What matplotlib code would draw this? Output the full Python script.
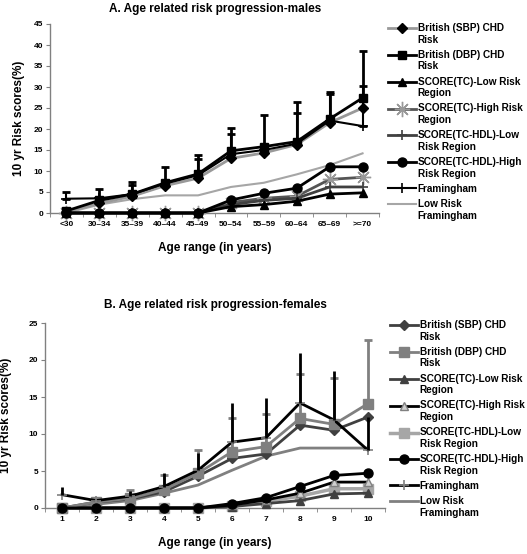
import matplotlib
matplotlib.use("Agg")
import matplotlib.pyplot as plt
from matplotlib.legend_handler import HandlerLine2D
import numpy as np

plt.rcParams['font.family'] = ['Liberation Sans', 'DejaVu Sans']
plt.rcParams['font.weight'] = 'bold'

# ---------------- Data ----------------
age_cats = ["<30", "30\u201334", "35\u201339", "40\u201344", "45\u201349",
            "50\u201354", "55\u201359", "60\u201364", "65\u201369", ">=70"]
female_cats = ["1", "2", "3", "4", "5", "6", "7", "8", "9", "10"]

labels = ["British (SBP) CHD\nRisk", "British (DBP) CHD\nRisk",
          "SCORE(TC)-Low Risk\nRegion", "SCORE(TC)-High Risk\nRegion",
          "SCORE(TC-HDL)-Low\nRisk Region", "SCORE(TC-HDL)-High\nRisk Region",
          "Framingham", "Low Risk\nFramingham"]

# Panel A (males)
sbp_A = [0.3, 2.3, 4.0, 6.5, 8.3, 13.0, 14.3, 16.3, 21.5, 25.0]
dbp_A = [0.5, 3.0, 4.5, 7.2, 9.3, 14.8, 15.8, 17.0, 22.4, 27.4]
tcl_A = [0, 0, 0, 0, 0, 1.5, 2.0, 2.8, 4.5, 4.8]
tch_A = [0, 0, 0, 0, 0, 2.5, 3.5, 4.0, 8.0, 8.5]
hdll_A = [0, 0, 0, 0, 0, 2.0, 3.0, 3.5, 6.2, 6.2]
hdlh_A = [0, 0, 0, 0, 0, 3.1, 4.7, 5.9, 11.0, 11.0]
fram_A = [3.4, 3.5, 4.5, 7.0, 9.0, 14.0, 15.0, 16.5, 22.0, 20.7]
lrf_A = [0, 2.0, 3.3, 4.2, 4.2, 6.2, 7.2, 9.2, 11.4, 14.2]
dbp_top_A = [0.5, 5.6, 7.3, 11.0, 13.7, 20.3, 23.3, 26.5, 28.9, 38.6]
fram_top_A = [5.0, 3.5, 6.7, 7.0, 12.9, 18.8, 15.0, 23.9, 28.3, 30.2]

# Panel B (females)
sbp_B = [0, 0.8, 1.2, 2.2, 4.3, 6.7, 7.3, 11.2, 10.5, 12.3]
dbp_B = [0, 0.8, 1.3, 2.5, 4.7, 7.6, 8.3, 12.1, 11.3, 14.1]
tcl_B = [0, 0, 0, 0, 0, 0.2, 0.6, 1.0, 1.9, 2.0]
tch_B = [0, 0, 0, 0, 0, 0.4, 1.1, 2.0, 3.5, 3.5]
hdll_B = [0, 0, 0, 0, 0, 0.3, 0.9, 1.6, 2.6, 2.6]
hdlh_B = [0, 0, 0, 0, 0, 0.6, 1.4, 2.9, 4.4, 4.7]
fram_B = [1.8, 1.0, 1.6, 2.9, 5.1, 8.9, 9.5, 14.2, 11.9, 7.8]
lrf_B = [0, 0.5, 1.0, 2.0, 3.1, 5.1, 7.0, 8.1, 8.1, 8.1]
fram_top_B = [2.9, 1.0, 2.3, 4.7, 7.5, 14.2, 14.8, 21.0, 18.5, 12.3]
dbp_top_B = [0, 1.3, 2.4, 4.5, 7.9, 12.1, 12.7, 18.1, 17.6, 22.7]

# ---------------- Figure ----------------
fig = plt.figure(figsize=(5.27, 5.54), dpi=100)
axA = fig.add_axes([50/527, 1-213/554, 329/527, 189/554])
axB = fig.add_axes([45/527, 1-508/554, 340/527, 185/554])

BLACK = '#000000'
DG = '#404040'
G = '#808080'
LG = '#a6a6a6'


class TopHandler(HandlerLine2D):
    """Align the legend handle with the first line of a two-line label."""
    def __init__(self, shift, **kw):
        super().__init__(**kw)
        self.shift = shift

    def create_artists(self, legend, orig_handle, xdescent, ydescent,
                       width, height, fontsize, trans):
        return super().create_artists(legend, orig_handle, xdescent,
                                      ydescent - 2 * self.shift, width, height,
                                      fontsize, trans)


def style_axes(ax, n, ymax, cats, xoff):
    ax.set_xlim(xoff - 0.5, xoff + n - 0.5)
    ax.set_ylim(0, ymax)
    ax.set_yticks(np.arange(0, ymax + 1, 5))
    ax.set_xticks(np.arange(n) + xoff)
    ax.set_xticklabels(cats)
    ax.set_xticks(np.arange(n + 1) + xoff - 0.5, minor=True)
    ax.tick_params(axis='x', which='major', length=0, labelsize=6, pad=6)
    ax.tick_params(axis='x', which='minor', length=3, color=G, direction='out')
    ax.tick_params(axis='y', length=3, color=G, labelsize=6, pad=2)
    for s in ['top', 'right']:
        ax.spines[s].set_visible(False)
    for s in ['left', 'bottom']:
        ax.spines[s].set_color(G)
        ax.spines[s].set_linewidth(1.0)
    for t in ax.get_xticklabels() + ax.get_yticklabels():
        t.set_fontweight('bold')


kw = dict(clip_on=False)
STAR = (8, 2, 0)

# ---- Panel A ----
xA = np.arange(len(age_cats))
hA = []
hA.append(axA.plot(xA, sbp_A, color='#999999', lw=2, marker='D', ms=5,
                   mfc=BLACK, mec=BLACK, zorder=4, **kw)[0])
hA.append(axA.plot(xA, dbp_A, color=BLACK, lw=2, marker='s', ms=6,
                   mfc=BLACK, mec=BLACK, zorder=5, **kw)[0])
hA.append(axA.plot(xA, tcl_A, color=BLACK, lw=2, marker='^', ms=6,
                   mfc=BLACK, mec=BLACK, zorder=5, **kw)[0])
hA.append(axA.plot(xA, tch_A, color='#555555', lw=2, marker=STAR, ms=11,
                   mec='#999999', mew=1.0, zorder=3, **kw)[0])
hA.append(axA.plot(xA, hdll_A, color=DG, lw=2, marker='+', ms=7,
                   mec=DG, mew=1.2, zorder=4, **kw)[0])
hA.append(axA.plot(xA, hdlh_A, color=BLACK, lw=2, marker='o', ms=6.5,
                   mfc=BLACK, mec=BLACK, zorder=6, **kw)[0])
hA.append(axA.plot(xA, fram_A, color=BLACK, lw=1.5, marker='+', ms=7,
                   mec=BLACK, mew=1.2, zorder=4, **kw)[0])
hA.append(axA.plot(xA, lrf_A, color=LG, lw=1.5, zorder=2, **kw)[0])
axA.errorbar(xA, dbp_A, yerr=[np.zeros(len(xA)), np.array(dbp_top_A) - np.array(dbp_A)],
             fmt='none', ecolor=BLACK, elinewidth=2, capsize=3, capthick=2, zorder=5)
axA.errorbar(xA, fram_A, yerr=[np.zeros(len(xA)), np.array(fram_top_A) - np.array(fram_A)],
             fmt='none', ecolor=BLACK, elinewidth=1.5, capsize=3, capthick=2, zorder=5)
style_axes(axA, len(age_cats), 45, age_cats, 0)
axA.set_xlabel("Age range (in years)", fontsize=8.5, fontweight='bold', labelpad=10)
axA.set_ylabel("10 yr Risk scores(%)", fontsize=8.5, fontweight='bold', labelpad=6)
fig.text(215/527, 1-9/554, "A. Age related risk progression-males", ha='center',
         va='center', fontsize=8.5, fontweight='bold')

# ---- Panel B ----
xB = np.arange(1, len(female_cats) + 1)
hB = []
hB.append(axB.plot(xB, sbp_B, color=DG, lw=2, marker='D', ms=5,
                   mfc=DG, mec=DG, zorder=4, **kw)[0])
hB.append(axB.plot(xB, dbp_B, color=G, lw=2, marker='s', ms=6.5,
                   mfc=G, mec=G, zorder=5, **kw)[0])
hB.append(axB.plot(xB, tcl_B, color=DG, lw=2, marker='^', ms=5.5,
                   mfc=DG, mec=DG, zorder=4, **kw)[0])
hB.append(axB.plot(xB, tch_B, color=BLACK, lw=2, marker='^', ms=6,
                   mfc='#d0d0d0', mec=G, zorder=4, **kw)[0])
hB.append(axB.plot(xB, hdll_B, color=LG, lw=2.5, marker='s', ms=7.5,
                   mfc=LG, mec=LG, zorder=3, **kw)[0])
hB.append(axB.plot(xB, hdlh_B, color=BLACK, lw=2, marker='o', ms=6.5,
                   mfc=BLACK, mec=BLACK, zorder=6, **kw)[0])
hB.append(axB.plot(xB, fram_B, color=BLACK, lw=2, marker='+', ms=7,
                   mec=G, mew=1.2, zorder=5, **kw)[0])
hB.append(axB.plot(xB, lrf_B, color=G, lw=2, zorder=2, **kw)[0])
axB.errorbar(xB, dbp_B, yerr=[np.zeros(len(xB)), np.array(dbp_top_B) - np.array(dbp_B)],
             fmt='none', ecolor=G, elinewidth=2, capsize=3, capthick=2, zorder=4)
axB.errorbar(xB, fram_B, yerr=[np.zeros(len(xB)), np.array(fram_top_B) - np.array(fram_B)],
             fmt='none', ecolor=BLACK, elinewidth=2, capsize=0, zorder=5)
style_axes(axB, len(female_cats), 25, female_cats, 1)
axB.set_xlabel("Age range (in years)", fontsize=8.5, fontweight='bold', labelpad=10)
axB.set_ylabel("10 yr Risk scores(%)", fontsize=8.5, fontweight='bold', labelpad=12)
fig.text(215/527, 1-305/554, "B. Age related risk progression-females", ha='center',
         va='center', fontsize=8.5, fontweight='bold')

FS = 7.2
legkw = dict(loc='upper left', frameon=False, handlelength=2.8, handletextpad=0.15,
             labelspacing=0.52, numpoints=1, borderaxespad=0, borderpad=0,
             prop={'size': FS, 'weight': 'bold'})


def handler_map(handles):
    hm = {}
    for h, lab in zip(handles, labels):
        if '\n' in lab:
            hm[h] = TopHandler(shift=0.6 * FS)
    return hm


fig.legend(hA, labels, bbox_to_anchor=(388/527, 1-23/554),
           handler_map=handler_map(hA), **legkw)
fig.legend(hB, labels, bbox_to_anchor=(390/527, 1-320/554),
           handler_map=handler_map(hB), **legkw)

fig.savefig("out.png", dpi=100)
